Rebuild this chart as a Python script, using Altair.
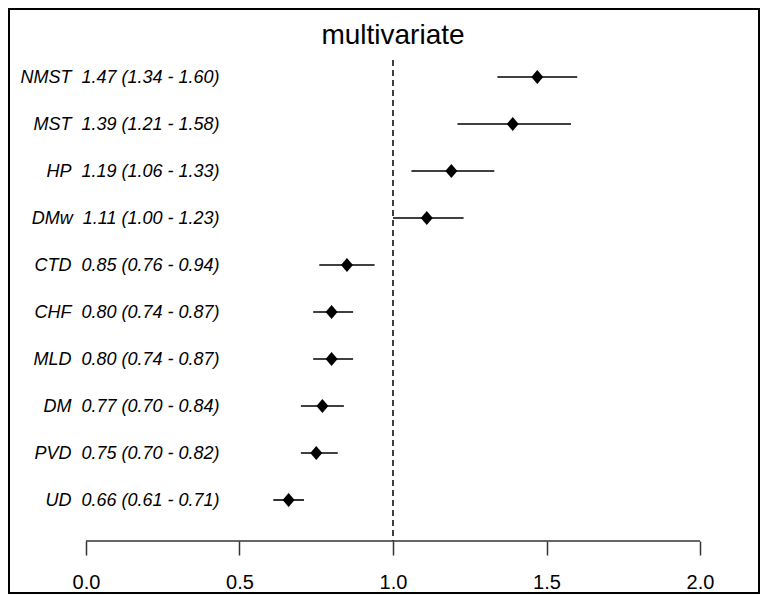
import altair as alt
import pandas as pd

# ---- data ----
names = ["NMST", "MST", "HP", "DMw", "CTD", "CHF", "MLD", "DM", "PVD", "UD"]
est = [1.47, 1.39, 1.19, 1.11, 0.85, 0.80, 0.80, 0.77, 0.75, 0.66]
lo = [1.34, 1.21, 1.06, 1.00, 0.76, 0.74, 0.74, 0.70, 0.70, 0.61]
hi = [1.60, 1.58, 1.33, 1.23, 0.94, 0.87, 0.87, 0.84, 0.82, 0.71]
tick_values = [0.0, 0.5, 1.0, 1.5, 2.0]
ref_value = 1.0
title_text = "multivariate"

labels = [f"{n}\u00a0 {e:.2f} ({l:.2f} - {h:.2f})" for n, e, l, h in zip(names, est, lo, hi)]
df = pd.DataFrame({"label": labels, "est": est, "lo": lo, "hi": hi})
df_axis = pd.DataFrame({"a": [tick_values[0]], "b": [tick_values[-1]]})
df_title = pd.DataFrame({"t": [title_text]})

# ---- layout ----
W, H = 750, 584
PX_PER_UNIT = 307.0
ORIGIN = 77.0            # plot-x pixel of value 0
AXIS_OFFSET = -52
AXIS_Y = H + AXIS_OFFSET
FONT = "Liberation Sans"

x_scale = alt.Scale(domain=[-ORIGIN / PX_PER_UNIT, (W - ORIGIN) / PX_PER_UNIT], nice=False, zero=False)
y_scale = alt.Scale(type="point", padding=0, range=[68, 491])

x_axis = alt.Axis(values=tick_values, format=".1f", domain=False, grid=False, title=None,
                  tickSize=14, tickWidth=1.5, tickColor="#333333",
                  labelFont=FONT, labelFontSize=20, labelColor="black", labelPadding=17,
                  labelFlush=False, offset=AXIS_OFFSET)
y_axis = alt.Axis(title=None, domain=False, ticks=False, grid=False,
                  labelFont=FONT, labelFontStyle="italic", labelFontSize=18, labelColor="black",
                  labelAlign="right", labelBaseline="middle", labelPadding=-210, labelLimit=500)

base = alt.Chart(df)

bars = base.mark_rule(color="black", strokeWidth=1.6).encode(
    x=alt.X("lo:Q", scale=x_scale, axis=x_axis),
    x2="hi:Q",
    y=alt.Y("label:N", sort=None, scale=y_scale, axis=y_axis),
)

diamond = "M0,-1.15L1,0L0,1.15L-1,0Z"
points = base.mark_point(shape=diamond, filled=True, size=144, color="black", opacity=1).encode(
    x="est:Q",
    y=alt.Y("label:N", sort=None),
)

axis_line = alt.Chart(df_axis).mark_rule(color="#333333", strokeWidth=1.5).encode(
    x="a:Q", x2="b:Q", y=alt.value(AXIS_Y)
)

ref_line = alt.Chart(df_axis).mark_rule(color="black", strokeWidth=1.5, strokeDash=[6, 4]).encode(
    x=alt.datum(ref_value), y=alt.value(51), y2=alt.value(AXIS_Y)
)

title = alt.Chart(df_title).mark_text(font=FONT, fontSize=28, color="black",
                                      align="center", baseline="alphabetic").encode(
    text="t:N", x=alt.datum(ref_value), y=alt.value(35)
)

chart = alt.layer(ref_line, axis_line, bars, points, title).properties(
    width=W, height=H, padding=1
).configure_view(stroke="black", strokeWidth=2)

chart.save("out.html", embed_options={"renderer": "svg", "actions": False})
